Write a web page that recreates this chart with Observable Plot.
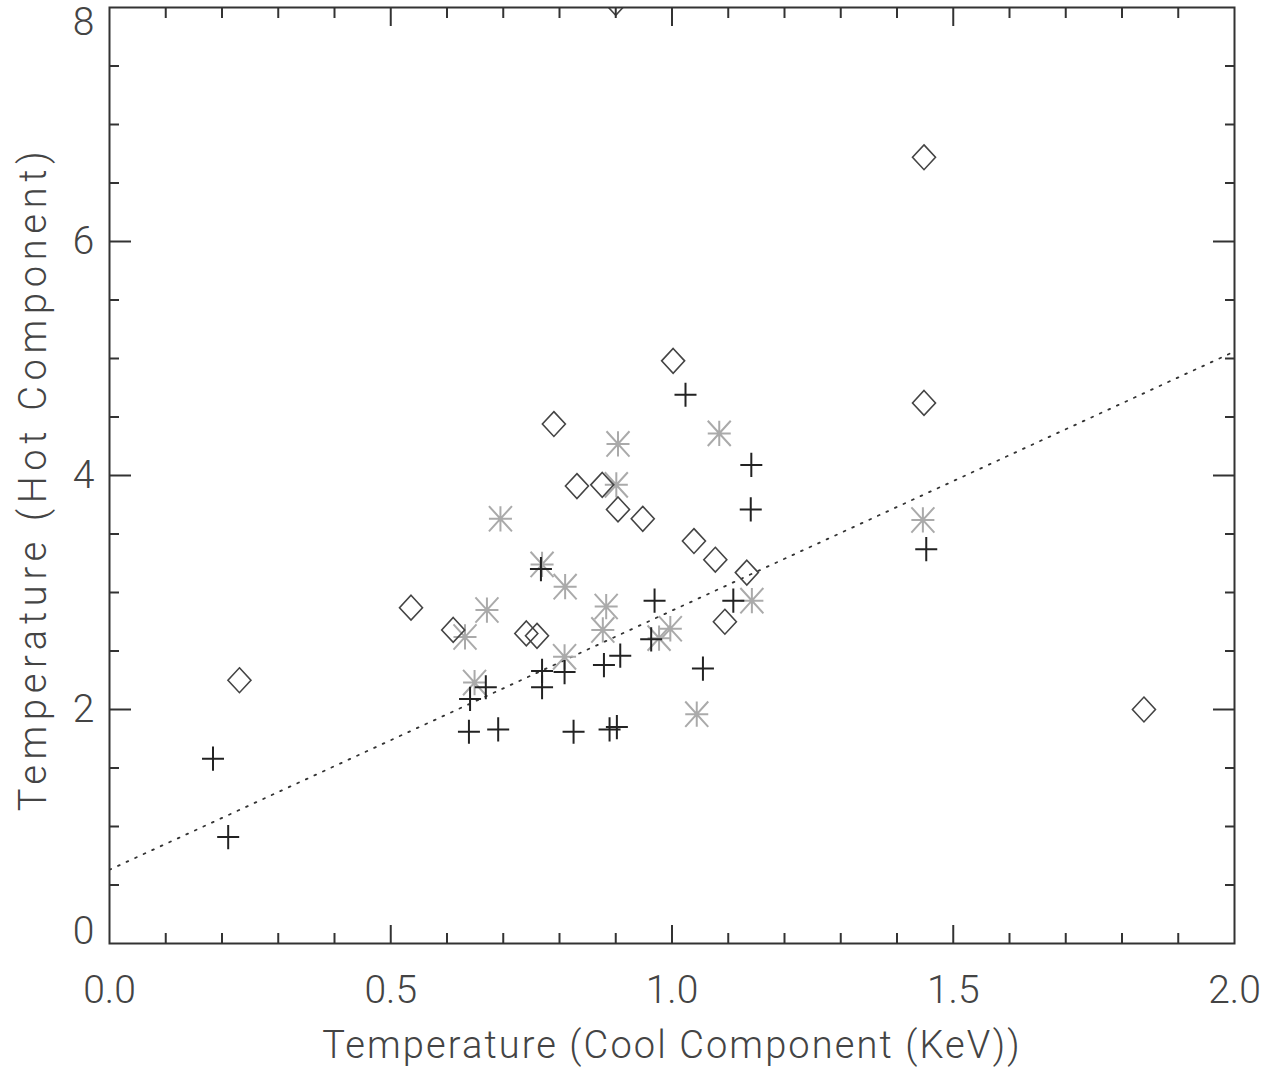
<!DOCTYPE html>
<html>
<head>
<meta charset="utf-8">
<script src="https://cdn.jsdelivr.net/npm/d3@7"></script>
<script src="https://cdn.jsdelivr.net/npm/@observablehq/plot@0.6"></script>
<style>
  html, body { margin: 0; padding: 0; background: #fff; }
  #chart { width: 1278px; height: 1070px; }
  svg text { font-weight: 300; }
</style>
</head>
<body>
<div id="chart"></div>
<script>
// ---- data ----
const diamondX = [0.231, 0.536, 0.611, 0.741, 0.760, 0.790, 0.831, 0.876, 0.904, 0.948, 1.002, 1.039, 1.077, 1.133, 1.094, 1.448, 1.448, 1.839, 0.900];
const diamondY = [2.25, 2.87, 2.68, 2.65, 2.63, 4.44, 3.91, 3.92, 3.71, 3.63, 4.98, 3.44, 3.28, 3.17, 2.75, 6.72, 4.62, 2.00, 8.04];

const plusX = [1.024, 1.141, 1.140, 0.767, 0.969, 1.109, 0.963, 0.908, 0.879, 1.055, 0.769, 0.809, 0.769, 0.669, 0.641, 0.639, 0.691, 0.825, 0.889, 0.902, 0.184, 0.211, 1.452];
const plusY = [4.69, 4.09, 3.71, 3.20, 2.93, 2.93, 2.60, 2.46, 2.38, 2.35, 2.33, 2.32, 2.19, 2.19, 2.09, 1.81, 1.83, 1.81, 1.83, 1.85, 1.58, 0.91, 3.37];

const starX = [0.904, 1.084, 0.901, 0.695, 0.769, 0.810, 0.671, 0.883, 1.142, 0.632, 0.877, 0.997, 0.977, 0.809, 0.649, 1.044, 1.446];
const starY = [4.27, 4.36, 3.92, 3.63, 3.24, 3.05, 2.85, 2.88, 2.93, 2.62, 2.68, 2.69, 2.61, 2.45, 2.23, 1.96, 3.62];

const fitX = [0, 2];
const fitY = [0.63, 5.06];

const xLabelTicks = [0, 0.5, 1.0, 1.5, 2.0];
const xMajorTicks = [0.5, 1.0, 1.5];
const xMinorTicks = [0.1, 0.2, 0.3, 0.4, 0.6, 0.7, 0.8, 0.9, 1.1, 1.2, 1.3, 1.4, 1.6, 1.7, 1.8, 1.9];
const yMidLabels = [2, 4, 6];
const yLowLabel = [0];
const yTopLabel = [8];
const yMajorTicks = [2, 4, 6];
const yMinorTicks = [0.5, 1, 1.5, 2.5, 3, 3.5, 4.5, 5, 5.5, 6.5, 7, 7.5];

const xTitle = "Temperature (Cool Component (KeV))";
const yTitle = "Temperature (Hot Component)";

// ---- tables ----
const diamonds = diamondX.map((x, i) => ({x, y: diamondY[i]}));
const pluses = plusX.map((x, i) => ({x, y: plusY[i]}));
const stars = starX.map((x, i) => ({x, y: starY[i]}));
const fit = fitX.map((x, i) => ({x, y: fitY[i]}));

// ---- custom IDL-like symbols ----
const symDiamond = {draw(c, size) { const h = Math.sqrt(size / Math.PI); const v = h * 1.08;
  c.moveTo(0, -v); c.lineTo(h, 0); c.lineTo(0, v); c.lineTo(-h, 0); c.closePath(); }};
const symPlus = {draw(c, size) { const h = Math.sqrt(size / Math.PI); const v = h * 1.1;
  c.moveTo(-h, 0); c.lineTo(h, 0); c.moveTo(0, -v); c.lineTo(0, v); }};
const symStar = {draw(c, size) { const h = Math.sqrt(size / Math.PI); const v = h * 1.1;
  c.moveTo(-h, 0); c.lineTo(h, 0); c.moveTo(0, -v); c.lineTo(0, v);
  c.moveTo(-h, -v); c.lineTo(h, v); c.moveTo(-h, v); c.lineTo(h, -v); }};

const axisColor = "#333";
const textColor = "#444";
const font = "Roboto, Lato, 'Open Sans', sans-serif";

const chart = Plot.plot({
  width: 1278,
  height: 1070,
  marginLeft: 109,
  marginRight: 44,
  marginTop: 7,
  marginBottom: 127,
  style: {fontFamily: font, fontSize: "39px", color: axisColor, background: "#fff"},
  x: {domain: [0, 2]},
  y: {domain: [0, 8]},
  marks: [
    // fit line
    Plot.line(fit, {x: "x", y: "y", stroke: "#333", strokeWidth: 1.8, strokeDasharray: "1.8 7.6", clip: true}),
    // data
    Plot.dot(stars, {x: "x", y: "y", symbol: symStar, r: 11.5, stroke: "#aaa", strokeWidth: 2, fill: "none", clip: true}),
    Plot.dot(diamonds, {x: "x", y: "y", symbol: symDiamond, r: 11.5, stroke: "#444", strokeWidth: 1.6, fill: "none", clip: true}),
    Plot.dot(pluses, {x: "x", y: "y", symbol: symPlus, r: 11, stroke: "#222", strokeWidth: 2, fill: "none", clip: true}),
    // inward ticks
    Plot.axisX(xMinorTicks, {anchor: "bottom", tickSize: -10, strokeWidth: 2, stroke: axisColor, fill: "none", label: null}),
    Plot.axisX(xMajorTicks, {anchor: "bottom", tickSize: -18, strokeWidth: 2, stroke: axisColor, fill: "none", label: null}),
    Plot.axisX(xMinorTicks, {anchor: "top", tickSize: -10, strokeWidth: 2, stroke: axisColor, fill: "none", label: null}),
    Plot.axisX(xMajorTicks, {anchor: "top", tickSize: -18, strokeWidth: 2, stroke: axisColor, fill: "none", label: null}),
    Plot.axisY(yMinorTicks, {anchor: "left", tickSize: -10, strokeWidth: 2, stroke: axisColor, fill: "none", label: null}),
    Plot.axisY(yMajorTicks, {anchor: "left", tickSize: -22, strokeWidth: 2, stroke: axisColor, fill: "none", label: null}),
    Plot.axisY(yMinorTicks, {anchor: "right", tickSize: -10, strokeWidth: 2, stroke: axisColor, fill: "none", label: null}),
    Plot.axisY(yMajorTicks, {anchor: "right", tickSize: -22, strokeWidth: 2, stroke: axisColor, fill: "none", label: null}),
    // tick labels
    Plot.axisX(xLabelTicks, {anchor: "bottom", tickSize: 0, tickPadding: 32, tickFormat: d3.format(".1f"), fill: textColor, fontSize: 39, label: null}),
    Plot.axisY(yMidLabels, {anchor: "left", tickSize: 0, tickPadding: 15, tickFormat: d3.format("d"), fill: textColor, fontSize: 39, label: null}),
    Plot.axisY(yLowLabel, {anchor: "left", tickSize: 0, tickPadding: 15, tickFormat: d3.format("d"), fill: textColor, fontSize: 39, lineAnchor: "bottom", label: null}),
    Plot.axisY(yTopLabel, {anchor: "left", tickSize: 0, tickPadding: 15, tickFormat: d3.format("d"), fill: textColor, fontSize: 39, lineAnchor: "top", label: null}),
    // axis titles
    Plot.text([xTitle], {frameAnchor: "bottom", dy: 102, text: d => d, fill: textColor, fontSize: 38, lineAnchor: "middle", textAnchor: "middle"}),
    Plot.text([yTitle], {frameAnchor: "left", dx: -76, dy: 3, text: d => d, rotate: -90, fill: textColor, fontSize: 38, lineAnchor: "middle", textAnchor: "middle"}),
    // frame
    Plot.frame({stroke: axisColor, strokeWidth: 2})
  ]
});
// widen title letter spacing to match the reference's wide stroke font
d3.select(chart).selectAll("text").each(function() {
  const t = this.textContent;
  if (t === xTitle) this.style.letterSpacing = "2.1px";
  if (t === yTitle) this.style.letterSpacing = "5.7px";
});
document.getElementById("chart").appendChild(chart);
</script>
</body>
</html>
